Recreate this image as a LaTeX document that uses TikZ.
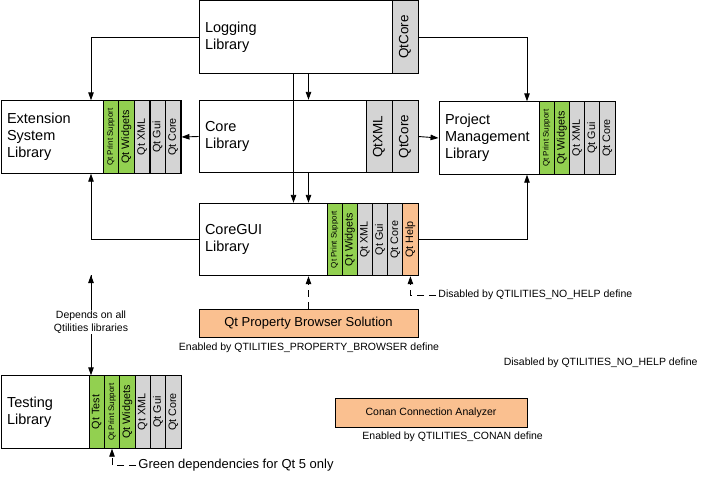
\documentclass[tikz,border=0pt]{standalone}
\usepackage{fontspec}
\setmainfont{Liberation Sans}
\usetikzlibrary{arrows.meta}
\definecolor{qtgrey}{RGB}{212,212,212}
\definecolor{qtgreen}{RGB}{146,208,80}
\definecolor{qtpeach}{RGB}{250,192,144}

\begin{document}
\begin{tikzpicture}
        [x=1pt,y=-1pt,line width=0.9pt,
         lib/.style={draw,rectangle,align=left,inner xsep=6pt,minimum height=72.5,font=\fontsize{14.5}{17}\selectfont},
         qtcol/.style={draw,rectangle,fill=qtgrey,rotate=90,inner sep=0pt,minimum width=72.5,minimum height=15.3,font=\fontsize{10.8}{12}\selectfont},
         qtnew/.style={qtcol,fill=qtgreen},
         qtopt/.style={qtcol,fill=qtpeach},
         wide/.style={minimum height=26,font=\fontsize{13.5}{15}\selectfont},
         tinytext/.style={font=\fontsize{8}{9}\selectfont},
         optbox/.style={draw,rectangle,fill=qtpeach},
         remark/.style={inner sep=2pt,font=\fontsize{10.5}{13}\selectfont},
         link/.style={-{Triangle[length=8pt,width=5.5pt]}},
         optlink/.style={link,dash pattern=on 7pt off 5pt}]
        \useasboundingbox (0,0) rectangle (702,477);

        % Logging
        \node[lib,text width=207]  (Log)    at (308.5,37)       {Logging\\Library};
        \node[qtcol,wide]          (LCore)  at (405,37)         {QtCore};

        % Core
        \node[lib,text width=207]  (Core)   at (308.5,136.5)    {Core\\Library};
        \node[qtcol,wide]          (CXml)   at (379,136.5)      {QtXML};
        \node[qtcol,wide]          (CCore)  at (405,136.5)      {QtCore};

        % Extension system
        \node[lib,text width=168]  (Ext)    at (91,137)         {Extension\\System\\Library};
        \node[qtnew,tinytext]      (EPrint) at (110.8,137)      {Qt Print Support};
        \node[qtnew]               (EWidg)  at (126.4,137)      {Qt Widgets};
        \node[qtcol]               (EXml)   at (142,137)        {Qt XML};
        \node[qtcol]               (EGui)   at (157.6,137)      {Qt Gui};
        \node[qtcol]               (ECore)  at (173.2,137)      {Qt Core};

        % Project management
        \node[lib,text width=164]  (PM)     at (527,138)        {Project\\Management\\Library};
        \node[qtnew,tinytext]      (PPrint) at (546.6,138)      {Qt Print Support};
        \node[qtnew]               (PWidg)  at (561.8,138)      {Qt Widgets};
        \node[qtcol]               (PXml)   at (577,138)        {Qt XML};
        \node[qtcol]               (PGui)   at (592.2,138)      {Qt Gui};
        \node[qtcol]               (PCore)  at (607.4,138)      {Qt Core};

        % CoreGUI
        \node[lib,text width=207]  (GUI)    at (308.5,239.5)    {CoreGUI\\Library};
        \node[qtnew,tinytext]      (GPrint) at (334.6,239.5)    {Qt Print Support};
        \node[qtnew]               (GWidg)  at (349.75,239.5)   {Qt Widgets};
        \node[qtcol]               (GXml)   at (364.9,239.5)    {Qt XML};
        \node[qtcol]               (GGui)   at (380.1,239.5)    {Qt Gui};
        \node[qtcol]               (GCore)  at (395.25,239.5)   {Qt Core};
        \node[qtopt]               (GHelp)  at (410.4,239.5)    {Qt Help};

        % Testing
        \node[lib,text width=168]  (Test)   at (91,412)         {Testing\\Library};
        \node[qtnew]               (TTest)  at (96.7,412)       {Qt Test};
        \node[qtnew,tinytext]      (TPrint) at (112,412)        {Qt Print Support};
        \node[qtnew]               (TWidg)  at (127.3,412)      {Qt Widgets};
        \node[qtcol]               (TXml)   at (142.7,412)      {Qt XML};
        \node[qtcol]               (TGui)   at (158,412)        {Qt Gui};
        \node[qtcol]               (TCore)  at (173.3,412)      {Qt Core};

        % optional parts
        \node[optbox,minimum width=219,minimum height=28,font=\fontsize{13}{15}\selectfont]
                                   (Prop)   at (308.5,323)      {Qt Property Browser Solution};
        \node[optbox,minimum width=192,minimum height=29,font=\fontsize{10.5}{13}\selectfont]
                                   (Conan)  at (431,412.5)      {Conan Connection Analyzer};

        % remarks
        \node[remark]              (propNote)  at (309,348)     {Enabled by QTILITIES\_PROPERTY\_BROWSER define};
        \node[remark,anchor=west]  (conanNote) at (360,437)     {Enabled by QTILITIES\_CONAN define};
        \node[remark,anchor=east]  (helpOff)   at (700,363)     {Disabled by QTILITIES\_NO\_HELP define};
        \node[remark,anchor=west]  (helpNote)  at (436,295)     {Disabled by QTILITIES\_NO\_HELP define};
        \node[remark,anchor=west,font=\fontsize{13}{15}\selectfont]
                                   (greenNote) at (136,465)     {Green dependencies for Qt 5 only};
        \coordinate                (dep)       at (91,275);

        \draw[link]
        (Log.south)                 edge        (Core.north)
        ([xshift=-15]Log.south)     edge        ([xshift=-15]GUI.north)
        (Core.south)                edge        (GUI.north)
        (Core.west)                 edge        (Ext.east)
        (Core.east)                 edge        (PM.west)
        (dep)                       edge        node[pos=0.47,fill=white,inner sep=1pt,align=center,font=\fontsize{10.5}{13}\selectfont]
                                                {Depends on all\\Qtilities libraries}   (Test.north);

        \draw[link] (Log.west) -| (Ext.north);
        \draw[link] (Log.east) -| (PM.north);
        \draw[link] (GUI.west) -| (Ext.south);
        \draw[link] (GUI.east) -| (PM.south);

        % dashed: optional
        \draw[optlink] (Prop.north) -- (GUI.south);
        \draw[optlink] (helpNote.west) -| (GUI.south -| GHelp);
        \draw[optlink] (greenNote.west) -| (Test.south -| TPrint);
    \end{tikzpicture}
\end{document}
